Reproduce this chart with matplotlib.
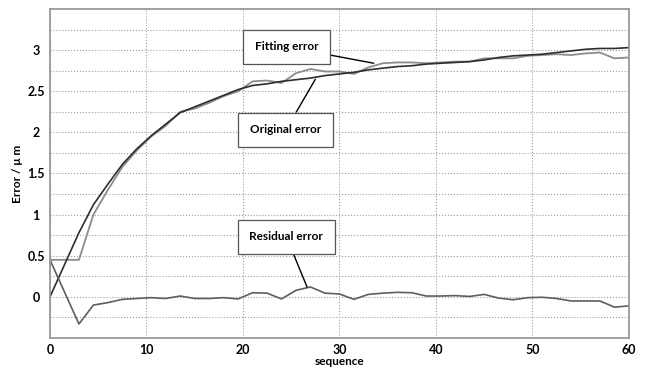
import numpy as np
import matplotlib
matplotlib.use('Agg')
import matplotlib.pyplot as plt
from matplotlib.ticker import MultipleLocator

plt.rcParams['font.family'] = ['Lato', 'DejaVu Sans']
plt.rcParams['font.weight'] = 'bold'

# sample positions along the sequence axis
seq = [0, 3, 4.5, 6, 7.5, 9, 10.5, 12, 13.5, 15, 16.5, 18, 19.5, 21, 22.5, 24,
       25.5, 27, 28.5, 30, 31.5, 33, 34.5, 36, 37.5, 39, 40.5, 42, 43.5, 45,
       46.5, 48, 49.5, 51, 52.5, 54, 55.5, 57, 58.5, 60]

original_err = [0.45, 0.45, 1.00, 1.30, 1.58, 1.78, 1.95, 2.08, 2.25, 2.29,
                2.36, 2.44, 2.50, 2.62, 2.63, 2.60, 2.72, 2.77, 2.74, 2.74,
                2.71, 2.79, 2.84, 2.85, 2.85, 2.84, 2.85, 2.86, 2.86, 2.90,
                2.90, 2.90, 2.93, 2.94, 2.95, 2.94, 2.96, 2.97, 2.90, 2.91]

fitting_err = [0.00, 0.78, 1.12, 1.37, 1.61, 1.80, 1.96, 2.10, 2.24, 2.31,
               2.38, 2.45, 2.52, 2.57, 2.59, 2.62, 2.64, 2.66, 2.69, 2.71,
               2.73, 2.76, 2.78, 2.80, 2.81, 2.83, 2.84, 2.85, 2.86, 2.88,
               2.91, 2.93, 2.94, 2.95, 2.97, 2.99, 3.01, 3.02, 3.02, 3.03]

residual_err = [0.45, -0.33, -0.10, -0.07, -0.03, -0.02, -0.01, -0.02, 0.01, -0.02,
                -0.02, -0.01, -0.025, 0.05, 0.045, -0.025, 0.08, 0.12, 0.045, 0.035,
                -0.03, 0.03, 0.045, 0.055, 0.05, 0.01, 0.01, 0.015, 0.005, 0.03,
                -0.015, -0.035, -0.01, -0.005, -0.02, -0.05, -0.05, -0.05, -0.125, -0.11]

fig = plt.figure(figsize=(6.45, 3.74), dpi=100)
ax = fig.add_axes([0.0775, 0.0963, 0.8975, 0.8797])

ax.plot(seq, original_err, color='#8c8c8c', linewidth=1.3)
ax.plot(seq, fitting_err, color='#2e2e2e', linewidth=1.2)
ax.plot(seq, residual_err, color='#5e5e5e', linewidth=1.2)

ax.set_xlim(0, 60)
ax.set_ylim(-0.5, 3.5)
ax.xaxis.set_major_locator(MultipleLocator(10))
ax.set_yticks([0, 0.5, 1, 1.5, 2, 2.5, 3])
ax.set_yticks(np.arange(-0.25, 3.5, 0.5), minor=True)
ax.grid(True, which='both', linestyle=':', color='#a0a0a0', linewidth=0.8)
ax.tick_params(axis='both', which='both', length=0, labelsize=9)
ax.tick_params(axis='y', pad=10)
ax.tick_params(axis='x', pad=4)
ax.set_yticklabels(['0', '0.5', '1', '1.5', '2', '2.5', '3'], ha='center')

for s in ax.spines.values():
    s.set_color('#999999')
    s.set_linewidth(1.3)

ax.set_xlabel('sequence', fontsize=8.5, fontweight='bold', labelpad=0)
ax.set_ylabel('Error / μ m', fontsize=8.5, fontweight='bold', labelpad=3)

box = dict(boxstyle='square,pad=1.0', fc='white', ec='#555555', lw=0.9)
arrow = dict(arrowstyle='-', color='black', lw=1.0, shrinkA=0, shrinkB=0)
ax.annotate('Fitting error', xy=(33.56, 2.84), xytext=(24.5, 3.04),
            ha='center', va='center', fontsize=8.5, fontweight='bold',
            bbox=box, arrowprops=arrow)
ax.annotate('Original error', xy=(27.5, 2.645), xytext=(24.45, 2.03),
            ha='center', va='center', fontsize=8.5, fontweight='bold',
            bbox=box, arrowprops=arrow)
ax.annotate('Residual error', xy=(26.65, 0.118), xytext=(24.5, 0.73),
            ha='center', va='center', fontsize=8.5, fontweight='bold',
            bbox=box, arrowprops=arrow)

fig.savefig('out.png', dpi=100)
